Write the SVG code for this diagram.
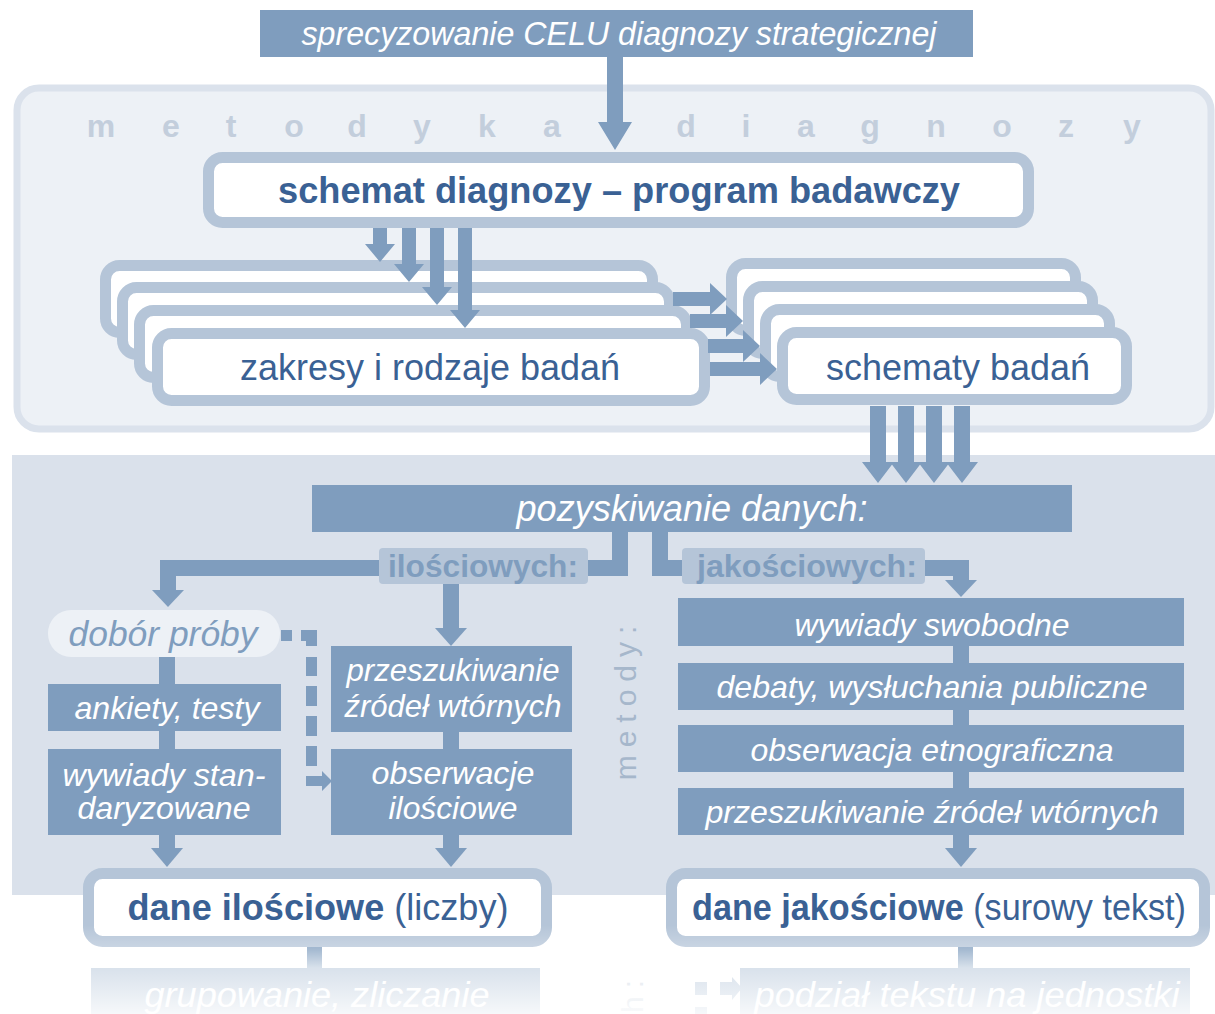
<svg xmlns="http://www.w3.org/2000/svg" width="1215" height="1014" viewBox="0 0 1215 1014">
  <defs>
    <linearGradient id="fade" gradientUnits="userSpaceOnUse" x1="0" y1="925" x2="0" y2="1014">
      <stop offset="0" stop-color="#ffffff" stop-opacity="0"/>
      <stop offset="0.28" stop-color="#ffffff" stop-opacity="0.3"/>
      <stop offset="0.48" stop-color="#ffffff" stop-opacity="0.7"/>
      <stop offset="1" stop-color="#ffffff" stop-opacity="0.93"/>
    </linearGradient>
    <style>
      .dark { fill: #7f9dbe; }
      .frame { fill: #ffffff; stroke: #b5c5d8; stroke-width: 11; }
      .conn { fill: none; stroke: #7f9dbe; stroke-width: 16; stroke-linejoin: miter; }
      .head { fill: #7f9dbe; }
      text { font-family: "Liberation Sans", Arial, sans-serif; }
      .wi { fill: #ffffff; font-style: italic; text-anchor: middle; }
      .big { fill: #3a6194; font-size: 36px; text-anchor: middle; }
      .lbl { fill: #7f9dbe; font-size: 32px; font-weight: bold; text-anchor: middle; }
    </style>
  </defs>
  <rect x="0" y="0" width="1215" height="1014" fill="#ffffff"/>

  <!-- background panels -->
  <g id="panel-metodyka">
    <rect x="17" y="88" width="1194" height="341" rx="22" fill="#edf1f6" stroke="#dbe2ec" stroke-width="7"/>
    <text font-size="32" font-weight="bold" fill="#c3cedc" text-anchor="middle" x="101 171 231 294 357 422 487 552 686 746 806 870 936 1002 1066 1132" y="137">metodykadiagnozy</text>
  </g>
  <g id="panel-pozyskiwanie">
    <rect x="12" y="455" width="1203" height="440" fill="#dae1eb"/>
    <text transform="translate(636,699) rotate(-90)" font-size="30" fill="#a6b7cb" text-anchor="middle" letter-spacing="8">metody:</text>
  </g>

  <!-- connectors -->
  <g id="connectors">
    <path class="head" d="M607 57 V122 H598 L615 150 L632 122 H623 V57 Z"/>
    <path class="head" d="M870 406 V462 H862 L878 483 L894 462 H886 V406 Z"/>
    <path class="head" d="M898 406 V462 H890 L906 483 L922 462 H914 V406 Z"/>
    <path class="head" d="M926 406 V462 H918 L934 483 L950 462 H942 V406 Z"/>
    <path class="head" d="M954 406 V462 H946 L962 483 L978 462 H970 V406 Z"/>
    <path class="conn" d="M620 532 V568 H168 V592"/>
    <polygon class="head" points="152,590 184,590 168,607"/>
    <path class="conn" d="M451 584 V630"/>
    <polygon class="head" points="435,628 467,628 451,646"/>
    <path class="conn" d="M660 532 V568 H961 V582"/>
    <polygon class="head" points="945,580 977,580 961,597"/>
    <path class="conn" d="M167 657 V850"/>
    <polygon class="head" points="151,848 183,848 167,867"/>
    <path class="conn" d="M451 732 V850"/>
    <polygon class="head" points="435,848 467,848 451,867"/>
    <path class="conn" d="M961 646 V850"/>
    <polygon class="head" points="945,848 977,848 961,867"/>
    <g class="head">
      <rect x="281" y="630" width="11" height="11"/>
      <polygon points="301,630 317,630 317,646 306,646 306,641 301,641"/>
      <rect x="306" y="657" width="11" height="19"/>
      <rect x="306" y="686" width="11" height="20"/>
      <rect x="306" y="716" width="11" height="20"/>
      <rect x="306" y="746" width="11" height="20"/>
      <path d="M306 776 H322 V771 L332 781 L322 791 V786 H306 Z"/>
    </g>
    <rect class="head" x="307" y="947" width="15" height="22"/>
    <rect class="head" x="958" y="947" width="15" height="22"/>
    <g class="head">
      <rect x="695" y="982" width="12" height="13"/>
      <rect x="695" y="1007" width="12" height="8"/>
      <path d="M720 982 H732 V977 L742 988 L732 1000 V995 H720 Z"/>
    </g>
  </g>

  <g id="node-cel">
    <rect class="dark" x="260" y="10" width="713" height="47"/>
    <text class="wi" x="619" y="45" font-size="33" textLength="635" lengthAdjust="spacingAndGlyphs">sprecyzowanie CELU diagnozy strategicznej</text>
  </g>

  <g id="node-schemat">
    <rect class="frame" x="208.5" y="157.5" width="820" height="65" rx="14"/>
    <text class="big" x="619" y="203" font-weight="bold" textLength="682" lengthAdjust="spacingAndGlyphs">schemat diagnozy – program badawczy</text>
  </g>

  <g id="node-zakresy">
    <rect class="frame" x="105.5" y="265.5" width="547" height="67" rx="14"/>
    <rect class="frame" x="122.5" y="287.5" width="547" height="67" rx="14"/>
    <rect class="frame" x="139.5" y="310.5" width="547" height="67" rx="14"/>
    <rect class="frame" x="157.5" y="333.5" width="547" height="67" rx="14"/>
    <text class="big" x="430" y="380" textLength="380" lengthAdjust="spacingAndGlyphs">zakresy i rodzaje badań</text>
  </g>

  <g id="node-schematy">
    <rect class="frame" x="731.5" y="263.5" width="344" height="67" rx="14"/>
    <rect class="frame" x="748.5" y="286.5" width="344" height="67" rx="14"/>
    <rect class="frame" x="765.5" y="309.5" width="344" height="67" rx="14"/>
    <rect class="frame" x="782.5" y="332.5" width="344" height="67" rx="14"/>
    <text class="big" x="958" y="380" textLength="264" lengthAdjust="spacingAndGlyphs">schematy badań</text>
  </g>

  <g id="stack-arrows">
    <path class="head" d="M373 228 V244 H365 L380 262 L395 244 H387 V228 Z"/>
    <path class="head" d="M402 228 V264 H394 L409 282 L424 264 H416 V228 Z"/>
    <path class="head" d="M430 228 V287 H422 L437 305 L452 287 H444 V228 Z"/>
    <path class="head" d="M458 228 V310 H450 L465 328 L480 310 H472 V228 Z"/>
    <path class="head" d="M673 292 H710 V283 L727 299 L710 315 V306 H673 Z"/>
    <path class="head" d="M690 314 H726 V305 L743 321 L726 337 V328 H690 Z"/>
    <path class="head" d="M708 339 H743 V330 L760 346 L743 362 V353 H708 Z"/>
    <path class="head" d="M710 362 H760 V353 L777 369 L760 385 V376 H710 Z"/>
  </g>

  <g id="node-pozyskiwanie">
    <rect class="dark" x="312" y="485" width="760" height="47"/>
    <text class="wi" x="692" y="521" font-size="36" textLength="351" lengthAdjust="spacingAndGlyphs">pozyskiwanie danych:</text>
  </g>

  <g id="label-ilosciowych">
    <rect x="379" y="548" width="209" height="36" rx="4" fill="#b5c5d8"/>
    <text class="lbl" x="483" y="577" textLength="190" lengthAdjust="spacingAndGlyphs">ilościowych:</text>
  </g>
  <g id="label-jakosciowych">
    <rect x="682" y="548" width="243" height="36" rx="4" fill="#b5c5d8"/>
    <text class="lbl" x="807" y="577" textLength="220" lengthAdjust="spacingAndGlyphs">jakościowych:</text>
  </g>

  <g id="node-dobor">
    <rect x="48" y="610" width="232" height="47" rx="23" fill="#edf1f6"/>
    <text x="163" y="646" font-size="35" font-style="italic" fill="#7f9dbe" text-anchor="middle" textLength="189" lengthAdjust="spacingAndGlyphs">dobór próby</text>
  </g>
  <g id="node-ankiety">
    <rect class="dark" x="48" y="684" width="233" height="47"/>
    <text class="wi" x="167" y="719" font-size="32" textLength="185" lengthAdjust="spacingAndGlyphs">ankiety, testy</text>
  </g>
  <g id="node-wywiady-stand">
    <rect class="dark" x="48" y="749" width="233" height="86"/>
    <text class="wi" x="164" y="786" font-size="32" textLength="203" lengthAdjust="spacingAndGlyphs">wywiady stan-</text>
    <text class="wi" x="164" y="819" font-size="32" textLength="173" lengthAdjust="spacingAndGlyphs">daryzowane</text>
  </g>
  <g id="node-przeszukiwanie-il">
    <rect class="dark" x="331" y="646" width="241" height="86"/>
    <text class="wi" x="453" y="681" font-size="32" textLength="213" lengthAdjust="spacingAndGlyphs">przeszukiwanie</text>
    <text class="wi" x="453" y="717" font-size="32" textLength="217" lengthAdjust="spacingAndGlyphs">źródeł wtórnych</text>
  </g>
  <g id="node-obserwacje-il">
    <rect class="dark" x="331" y="749" width="241" height="86"/>
    <text class="wi" x="453" y="784" font-size="32" textLength="163" lengthAdjust="spacingAndGlyphs">obserwacje</text>
    <text class="wi" x="453" y="819" font-size="32" textLength="129" lengthAdjust="spacingAndGlyphs">ilościowe</text>
  </g>

  <g id="node-wywiady-swobodne">
    <rect class="dark" x="678" y="598" width="506" height="48"/>
    <text class="wi" x="932" y="636" font-size="32" textLength="275" lengthAdjust="spacingAndGlyphs">wywiady swobodne</text>
  </g>
  <g id="node-debaty">
    <rect class="dark" x="678" y="663" width="506" height="47"/>
    <text class="wi" x="932" y="698" font-size="32" textLength="431" lengthAdjust="spacingAndGlyphs">debaty, wysłuchania publiczne</text>
  </g>
  <g id="node-obserwacja-etn">
    <rect class="dark" x="678" y="725" width="506" height="47"/>
    <text class="wi" x="932" y="761" font-size="32" textLength="363" lengthAdjust="spacingAndGlyphs">obserwacja etnograficzna</text>
  </g>
  <g id="node-przeszukiwanie-jak">
    <rect class="dark" x="678" y="788" width="506" height="47"/>
    <text class="wi" x="932" y="823" font-size="32" textLength="453" lengthAdjust="spacingAndGlyphs">przeszukiwanie źródeł wtórnych</text>
  </g>

  <g id="node-dane-il">
    <rect class="frame" x="88.5" y="873.5" width="458" height="68" rx="14"/>
    <text class="big" x="318" y="920" textLength="381" lengthAdjust="spacingAndGlyphs"><tspan font-weight="bold">dane ilościowe</tspan> (liczby)</text>
  </g>
  <g id="node-dane-jak">
    <rect class="frame" x="671.5" y="873.5" width="533" height="68" rx="14"/>
    <text class="big" x="939" y="920" textLength="494" lengthAdjust="spacingAndGlyphs"><tspan font-weight="bold">dane jakościowe</tspan> (surowy tekst)</text>
  </g>

  <g id="node-grupowanie">
    <rect class="dark" x="91" y="968" width="449" height="60"/>
    <text class="wi" x="317" y="1007" font-size="35" textLength="345" lengthAdjust="spacingAndGlyphs">grupowanie, zliczanie</text>
  </g>
  <g id="node-podzial">
    <rect class="dark" x="740" y="968" width="450" height="60"/>
    <text class="wi" x="967" y="1007" font-size="35" textLength="425" lengthAdjust="spacingAndGlyphs">podział tekstu na jednostki</text>
  </g>
  <text transform="translate(643,972) rotate(-90)" font-size="30" fill="#a6b7cb" text-anchor="end" letter-spacing="8">h:</text>

  <rect x="0" y="925" width="1215" height="89" fill="url(#fade)"/>
</svg>
